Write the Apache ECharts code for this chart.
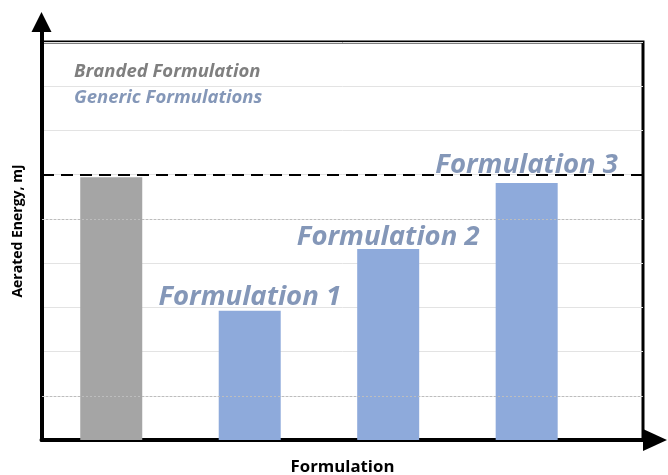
<!DOCTYPE html>
<html>
<head>
<meta charset="utf-8">
<script src="https://cdn.jsdelivr.net/npm/echarts@6/dist/echarts.min.js"></script>
<style>html,body{margin:0;padding:0;background:#fff}#c{width:668px;height:475px}</style>
</head>
<body>
<div id="c"></div>
<script>
const categories = ['Branded Formulation', 'Formulation 1', 'Formulation 2', 'Formulation 3'];
const brandedValues = [5.94];
const genericValues = [2.92, 4.32, 5.81];
const legendNames = ['Branded Formulation', 'Generic Formulations'];
const referenceLevel = 6;
const dottedLevels = [1, 5];
const yTicks = [0, 1, 2, 3, 4, 5, 6, 7, 8, 9];
const xAxisTitle = 'Formulation';
const yAxisTitle = 'Aerated Energy, mJ';
// label placement style (kept apart from values)
const genericLabelDistances = [0, -2, 4];

const brandedData = brandedValues.map((v, i) => [i, v]);
const genericData = genericValues.map((v, i) => ({
  value: [i + brandedValues.length, v],
  label: {distance: genericLabelDistances[i]}
}));

const chart = echarts.init(document.getElementById('c'), null, {renderer: 'canvas'});
chart.setOption({
  backgroundColor: '#ffffff',
  animation: false,
  legend: {
    orient: 'vertical', left: 64, top: 56, icon: 'none', itemWidth: 0, itemHeight: 14, itemGap: 4,
    selectedMode: false,
    textStyle: {fontFamily: 'Open Sans', fontWeight: 'bold', fontStyle: 'italic', fontSize: 18.5, lineHeight: 22},
    data: [
      {name: legendNames[0], textStyle: {color: '#7f7f7f'}},
      {name: legendNames[1], textStyle: {color: '#8497b8'}}
    ]
  },
  grid: [
    {left: 42, right: 25, top: 42, bottom: 35, show: true, borderColor: '#000', borderWidth: 3,
     backgroundColor: 'transparent', outerBoundsMode: 'none', containLabel: false},
    {left: 41.5, right: 13, top: 22, bottom: 35, outerBoundsMode: 'none', containLabel: false}
  ],
  xAxis: [
    {type: 'value', gridIndex: 0, min: -0.5, max: 3.84,
     axisLine: {show: false}, axisTick: {show: false}, axisLabel: {show: false}, splitLine: {show: false},
     name: xAxisTitle, nameLocation: 'middle', nameGap: 19,
     nameTextStyle: {fontFamily: 'Open Sans', fontWeight: 'bold', fontSize: 16.8, color: '#000'}},
    {type: 'value', gridIndex: 1, min: 0, max: 1,
     axisLine: {show: true, symbol: ['none', 'triangle'], symbolSize: [22, 24], lineStyle: {color: '#000', width: 4}},
     axisTick: {show: false}, axisLabel: {show: false}, splitLine: {show: false}}
  ],
  yAxis: [
    {type: 'value', gridIndex: 0, min: yTicks[0], max: yTicks[yTicks.length - 1], interval: 1,
     axisLine: {show: false}, axisTick: {show: false}, axisLabel: {show: false},
     splitLine: {show: true, lineStyle: {color: '#e3e3e3', width: 1}}},
    {type: 'value', gridIndex: 1, min: 0, max: 1,
     axisLine: {show: true, symbol: ['none', 'triangle'], symbolSize: [20, 20], lineStyle: {color: '#000', width: 4}},
     axisTick: {show: false}, axisLabel: {show: false}, splitLine: {show: false},
     name: yAxisTitle, nameLocation: 'middle', nameGap: 16,
     nameTextStyle: {fontFamily: 'Open Sans', fontWeight: 'bold', fontSize: 14, color: '#000'}}
  ],
  series: [
    {
      name: legendNames[0], type: 'bar', xAxisIndex: 0, yAxisIndex: 0, barWidth: 62, barGap: '-100%',
      itemStyle: {color: '#a5a5a5'},
      data: brandedData,
      markLine: {
        silent: true, symbol: 'none', label: {show: false},
        data: dottedLevels.map(v => ({yAxis: v, lineStyle: {color: '#bdbdbd', type: [2, 2], width: 1}}))
          .concat([{yAxis: referenceLevel, lineStyle: {color: '#000', type: [12, 7], width: 2}}])
      },
      z: 3
    },
    {
      name: legendNames[1], type: 'bar', xAxisIndex: 0, yAxisIndex: 0, barWidth: 62, barGap: '-100%',
      itemStyle: {color: '#8eaadb'},
      data: genericData,
      label: {
        show: true, position: 'top', distance: 0,
        formatter: p => categories[p.value[0]],
        fontFamily: 'Open Sans', fontWeight: 'bold', fontStyle: 'italic', fontSize: 27.5, color: '#8497b8'
      },
      z: 3
    }
  ]
});
</script>
</body>
</html>
